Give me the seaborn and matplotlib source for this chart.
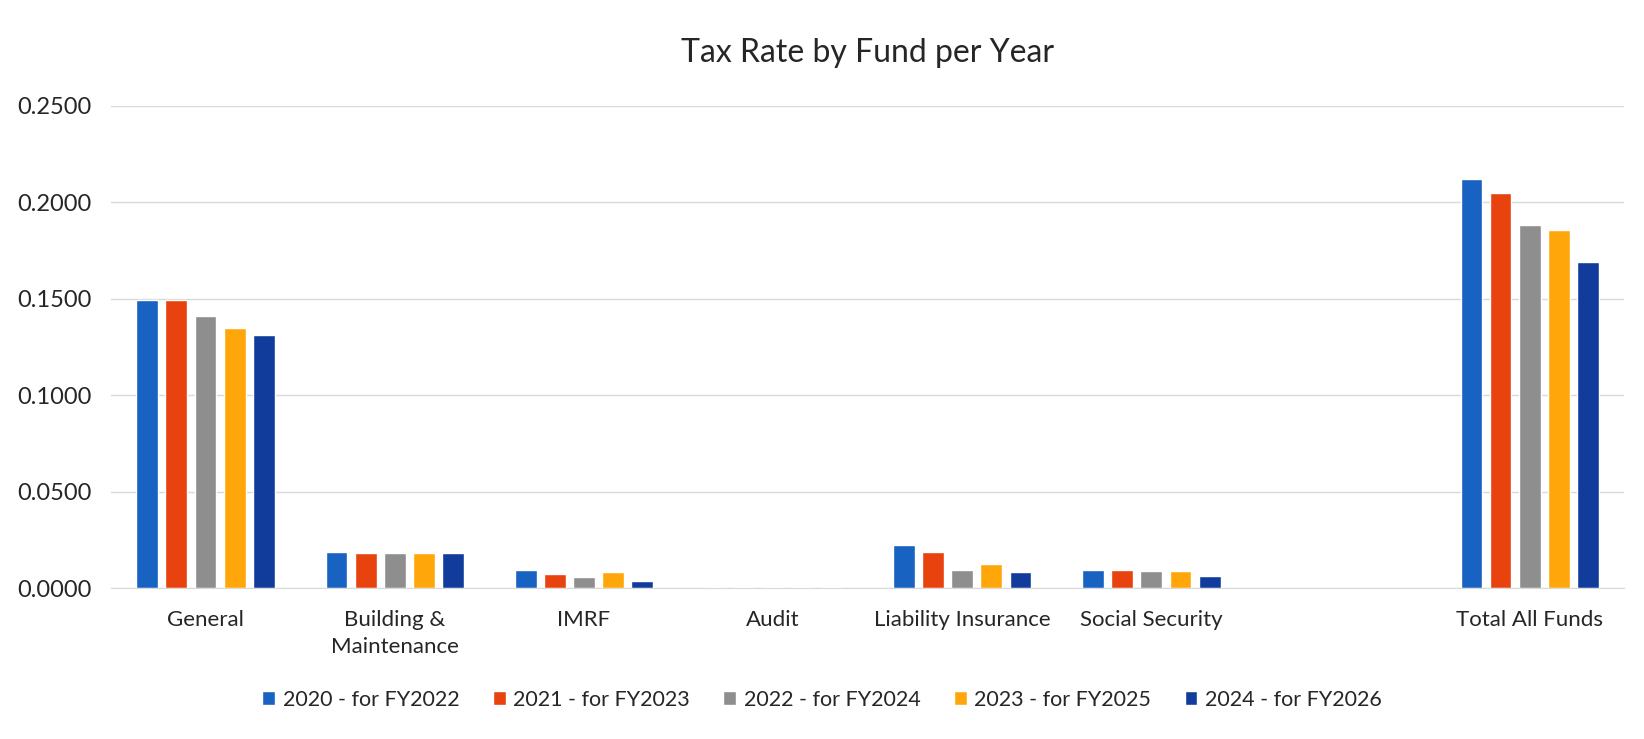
import matplotlib
matplotlib.use("Agg")
import matplotlib.pyplot as plt
import seaborn as sns
import pandas as pd
from matplotlib.ticker import FormatStrFormatter

funds = ["General", "Building &\nMaintenance", "IMRF", "Audit", "Liability Insurance",
         "Social Security", "Total All Funds"]
order = ["General", "Building &\nMaintenance", "IMRF", "Audit", "Liability Insurance",
         "Social Security", " ", "Total All Funds"]
years = ["2020 - for FY2022", "2021 - for FY2023", "2022 - for FY2024",
         "2023 - for FY2025", "2024 - for FY2026"]
rate_2020 = [0.1495, 0.0187, 0.0092, 0.0006, 0.0223, 0.0093, 0.2120]
rate_2021 = [0.1495, 0.0180, 0.0071, 0.0006, 0.0185, 0.0091, 0.2050]
rate_2022 = [0.1412, 0.0182, 0.0057, 0.0006, 0.0093, 0.0089, 0.1883]
rate_2023 = [0.1347, 0.0180, 0.0083, 0.0006, 0.0124, 0.0088, 0.1857]
rate_2024 = [0.1312, 0.0180, 0.0035, 0.0006, 0.0081, 0.0060, 0.1692]
colors = ["#1862C2", "#E8430F", "#8E8E8E", "#FFA70A", "#123C9C"]

rows = []
for yr, vals in zip(years, [rate_2020, rate_2021, rate_2022, rate_2023, rate_2024]):
    for f, v in zip(funds, vals):
        rows.append({"Fund": f, "Year": yr, "Rate": v})
df = pd.DataFrame(rows)

sns.set_style("white")
plt.rcParams["font.family"] = ["Lato", "DejaVu Sans"]

fig = plt.figure(figsize=(16.44, 7.39), dpi=100)
ax = fig.add_axes([0.0675, 0.2043, 0.9205, 0.6523])
sns.barplot(data=df, x="Fund", y="Rate", hue="Year", order=order, hue_order=years,
            palette=colors, width=0.77, ax=ax, saturation=1, legend=True)

# shrink bars to leave gaps between them
for p in ax.patches:
    w = p.get_width()
    if w > 0:
        nw = w * 0.75
        p.set_x(p.get_x() + (w - nw) / 2)
        p.set_width(nw)

ax.set_ylim(0, 0.25)
ax.set_xlim(-0.5, len(order) - 0.5)
ax.set_yticks([0, 0.05, 0.10, 0.15, 0.20, 0.25])
ax.yaxis.set_major_formatter(FormatStrFormatter("%.4f"))
ax.grid(axis="y", color="#D9D9D9", linewidth=1.0)
ax.set_axisbelow(True)
for s in ["top", "right", "left"]:
    ax.spines[s].set_visible(False)
ax.spines["bottom"].set_color("#D9D9D9")
ax.tick_params(axis="x", length=0, labelsize=16, colors="#262626", pad=16)
ax.tick_params(axis="y", length=0, labelsize=17, colors="#262626", pad=14)
for lbl in ax.get_xticklabels():
    lbl.set_linespacing(1.45)
ax.set_xlabel("")
ax.set_ylabel("")
ax.set_title("Tax Rate by Fund per Year", fontsize=23, color="#262626", pad=32)

ax.legend(loc="center", bbox_to_anchor=(0.5, -0.2), bbox_transform=ax.transAxes,
          ncol=5, frameon=False, fontsize=15.5, handlelength=0.6, handleheight=0.6,
          handletextpad=0.35, columnspacing=1.55, labelcolor="#262626")
ax.get_legend().set_bbox_to_anchor((0.5, 0.053), transform=fig.transFigure)

fig.savefig("out.png", dpi=100)
